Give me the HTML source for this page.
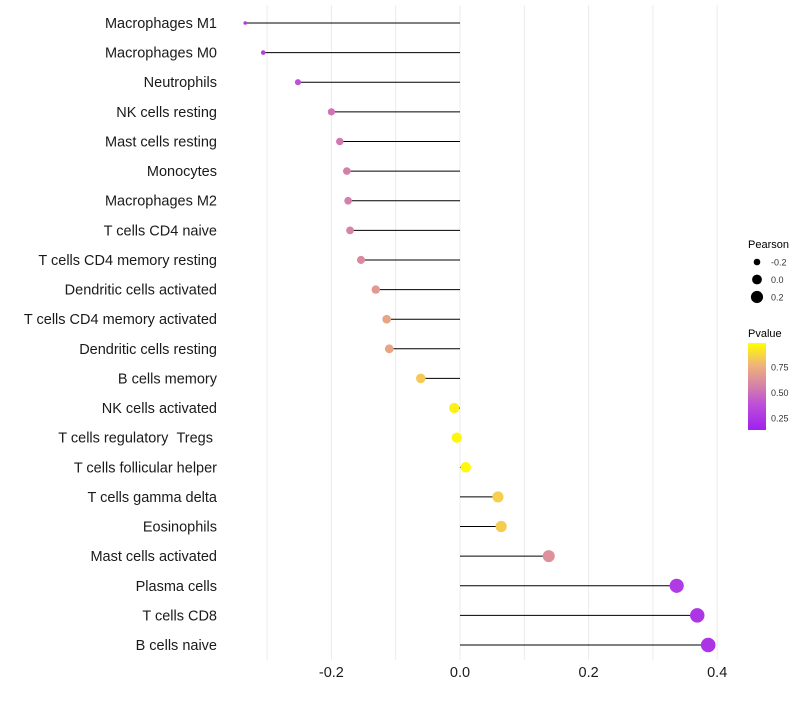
<!DOCTYPE html>
<html><head><meta charset="utf-8"><style>
body{margin:0;background:#fff;font-family:"Liberation Sans",sans-serif;}
svg text{font-family:"Liberation Sans",sans-serif;}
</style></head><body>
<svg id="chart" width="800" height="700" xmlns="http://www.w3.org/2000/svg">
<g id="grid"></g>
<g id="marks"></g>
<g id="ylabels"></g>
<g id="xticks"></g>
<g id="legend"></g>
</svg>
<script>
const categories=["Macrophages M1","Macrophages M0","Neutrophils","NK cells resting","Mast cells resting","Monocytes","Macrophages M2","T cells CD4 naive","T cells CD4 memory resting","Dendritic cells activated","T cells CD4 memory activated","Dendritic cells resting","B cells memory","NK cells activated","T cells regulatory\u00a0\u00a0Tregs\u00a0","T cells follicular helper","T cells gamma delta","Eosinophils","Mast cells activated","Plasma cells","T cells CD8","B cells naive"];
const pearson=[-0.334,-0.306,-0.252,-0.2,-0.187,-0.176,-0.174,-0.171,-0.154,-0.131,-0.114,-0.11,-0.061,-0.009,-0.005,0.009,0.059,0.064,0.138,0.337,0.369,0.386];
const pvalues=[0.15,0.2,0.3,0.45,0.47,0.5,0.5,0.52,0.55,0.62,0.68,0.68,0.82,0.95,0.97,0.98,0.84,0.83,0.58,0.16,0.13,0.12];
const xTicks=[-0.2,0.0,0.2,0.4];
const xTickLabels=["-0.2","0.0","0.2","0.4"];
const gridVals=[-0.3,-0.2,-0.1,0,0.1,0.2,0.3,0.4];
const sizeLegend=[-0.2,0.0,0.2];
const colorLegend=[0.25,0.5,0.75];

const NS="http://www.w3.org/2000/svg";
const x=v=>460+v*643;
const y=i=>23+i*(622/21);
const r=v=>Math.sqrt(2.25+65*(v+0.334))+0.3;
const stops=[[0,[160,32,240]],[0.3,[190,80,215]],[0.5,[212,128,170]],[0.75,[240,180,120]],[1,[255,255,0]]];
function col(p){for(let k=1;k<stops.length;k++){if(p<=stops[k][0]){const a=stops[k-1],b=stops[k];const t=(p-a[0])/(b[0]-a[0]);const c=a[1].map((v,j)=>Math.round(v+(b[1][j]-v)*t));return `rgb(${c})`;}}return "rgb(255,255,0)";}
function el(t,a,p){const e=document.createElementNS(NS,t);for(const k in a)e.setAttribute(k,a[k]);p.appendChild(e);return e;}
const grid=document.getElementById('grid');
gridVals.forEach(g=>{const l=el('line',{x1:x(g),x2:x(g),y1:5,y2:660,stroke:'#ebebeb','stroke-width':1},grid);

});
const marks=document.getElementById('marks'),yl=document.getElementById('ylabels');
categories.forEach((c,i)=>{
 const s=el('line',{x1:x(0),x2:x(pearson[i]),y1:y(i),y2:y(i),stroke:'#000','stroke-width':1},marks);
 
 
 const d=el('circle',{cx:x(pearson[i]),cy:y(i),r:r(pearson[i]),fill:col(pvalues[i])},marks);
 
 
 const t=el('text',{x:217,y:y(i)+5,'text-anchor':'end','font-size':14.5,fill:'#1a1a1a'},yl);
 t.textContent=c;
 
 
});
const xt=document.getElementById('xticks');
xTicks.forEach((v,i)=>{const t=el('text',{x:x(v),y:677,'text-anchor':'middle','font-size':14.5,fill:'#1a1a1a'},xt);t.textContent=xTickLabels[i];

});
const lg=document.getElementById('legend');
let t=el('text',{x:748,y:248,'font-size':11,fill:'#000'},lg);t.textContent='Pearson';


sizeLegend.forEach((v,i)=>{const cy=262+i*17.5;const c=el('circle',{cx:757,cy:cy,r:r(v)-0.3,fill:'#000'},lg);


const tt=el('text',{x:771,y:cy+3.5,'font-size':9,fill:'#333'},lg);tt.textContent=v.toFixed(1);

});
t=el('text',{x:748,y:337,'font-size':11,fill:'#000'},lg);t.textContent='Pvalue';


const defs=el('defs',{},lg);const gr=el('linearGradient',{id:'pg',x1:0,y1:1,x2:0,y2:0},defs);
stops.forEach(s=>el('stop',{offset:s[0],'stop-color':`rgb(${s[1]})`},gr));
const bar=el('rect',{x:748,y:343,width:18,height:87,fill:'url(#pg)'},lg);


colorLegend.forEach(v=>{const cy=418-(v-0.25)*102;const tt=el('text',{x:771,y:cy+3.5,'font-size':9,fill:'#333'},lg);tt.textContent=v.toFixed(2);

});
</script>
</body></html>
